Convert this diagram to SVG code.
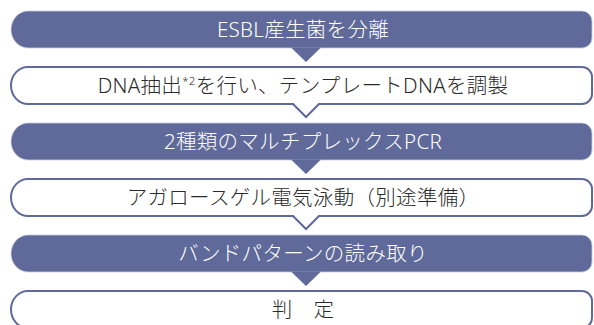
<svg xmlns="http://www.w3.org/2000/svg" width="594" height="325" viewBox="0 0 594 325">
<style>
.fill{fill:#5f6a9a;stroke:#c9cddd;stroke-width:0.8}
.out{fill:#fff;stroke:#5f6a9a;stroke-width:2}
.t{font-family:"Noto Sans","Noto Sans CJK JP",sans-serif;font-weight:300;font-size:20.5px;text-anchor:middle;letter-spacing:0.3px}
.tw{fill:#ffffff}
.tk{fill:#2b2b2b}
.pf{fill:#5f6a9a}
.po{fill:#fff;stroke:#5f6a9a;stroke-width:2}
</style>
<defs>
<path id="box" d="M28,0 H582 A10 10 0 0 1 592 10 V27 A10 10 0 0 1 582 37 H28 A17 18.5 0 0 1 11 18.5 A17 18.5 0 0 1 28 0 Z"/>
</defs>
<g id="n1"><use href="#box" class="fill" transform="translate(0,11)"/><text class="t tw" x="303" y="36.5">ESBL産生菌を分離</text></g>
<g id="n2"><use href="#box" class="out" transform="translate(0,67)"/><text class="t tk" x="303" y="92.5">DNA抽出<tspan font-size="11.5" dy="-7.5">*2</tspan><tspan dy="7.5">を行い、テンプレートDNAを調製</tspan></text></g>
<g id="n3"><use href="#box" class="fill" transform="translate(0,123)"/><text class="t tw" x="303" y="148.5">2種類のマルチプレックスPCR</text></g>
<g id="n4"><use href="#box" class="out" transform="translate(0,179)"/><text class="t tk" x="303" y="204.5">アガロースゲル電気泳動（別途準備）</text></g>
<g id="n5"><use href="#box" class="fill" transform="translate(0,235)"/><text class="t tw" x="303" y="260.5">バンドパターンの読み取り</text></g>
<g id="n6"><use href="#box" class="out" transform="translate(0,291)"/><text class="t tk" x="303" y="316.5">判　定</text></g>
<g id="connectors">
<polygon class="pf" points="291,47.5 306,62 321,47.5"/>
<rect x="294" y="102.5" width="24" height="3" fill="#fff"/>
<polyline class="po" points="293,104 306,117 319,104"/>
<polygon class="pf" points="291,159.5 306,174 321,159.5"/>
<rect x="294" y="214.5" width="24" height="3" fill="#fff"/>
<polyline class="po" points="293,216 306,229 319,216"/>
<polygon class="pf" points="291,271.5 306,286 321,271.5"/>
</g>
</svg>
